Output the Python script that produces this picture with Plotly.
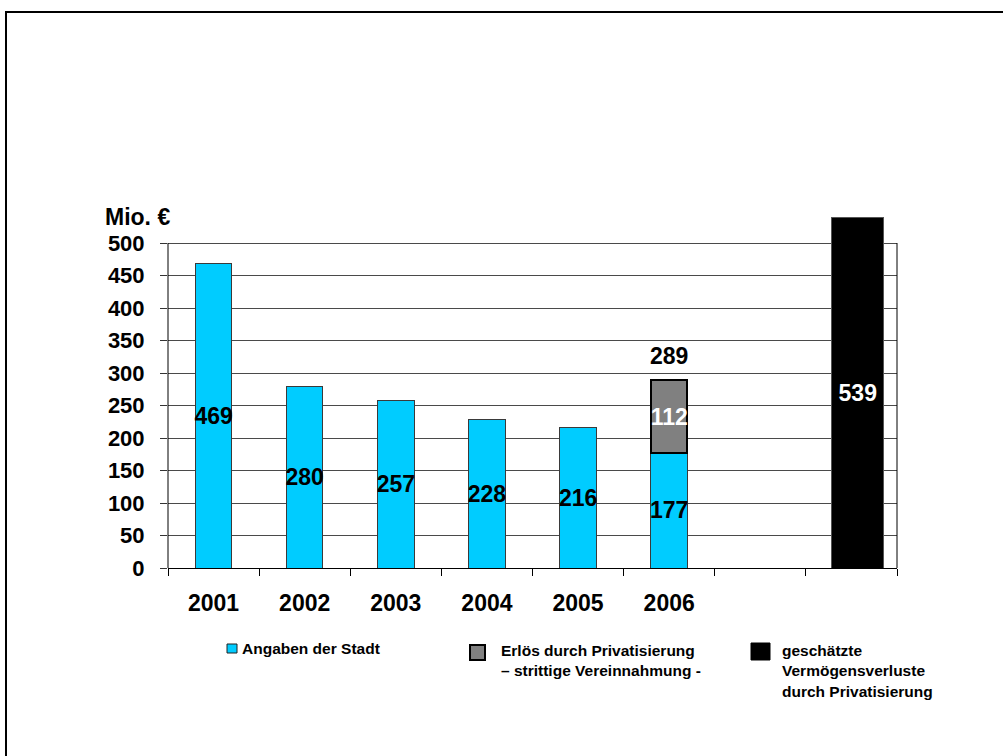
import plotly.graph_objects as go

# ---------------- data ----------------
categories = ["2001", "2002", "2003", "2004", "2005", "2006", "leer", "verlust"]
tick_labels = ["2001", "2002", "2003", "2004", "2005", "2006", "", ""]

stadt_x = ["2001", "2002", "2003", "2004", "2005", "2006"]
stadt_values = [469, 280, 257, 228, 216, 177]

erloes_x = ["2006"]
erloes_values = [112]

verlust_x = ["verlust"]
verlust_values = [539]

y_tickvals = [0, 50, 100, 150, 200, 250, 300, 350, 400, 450, 500]
y_title = "Mio. €"

series_names = [
    "Angaben der Stadt",
    "Erlös durch Privatisierung<br>– strittige Vereinnahmung -",
    "geschätzte<br>Vermögensverluste<br>durch Privatisierung",
]
series_colors = ["#00CCFF", "#808080", "#000000"]

# ---------------- layout geometry (pixels) ----------------
FW, FH = 1003, 756
L, R, T, B = 168, 897, 214, 568
W, H = R - L, B - T


def px(x):
    return (x - L) / W


def py(y):
    return (B - y) / H


FONT = "Liberation Sans, Arial, sans-serif"
LABEL_SIZE = 23

fig = go.Figure()

fig.add_trace(go.Bar(
    x=stadt_x, y=stadt_values, name=series_names[0], width=0.4,
    marker=dict(color=series_colors[0], line=dict(color="#3a3a3a", width=1)),
    text=[f"<b>{v}</b>" for v in stadt_values],
    textposition="inside", insidetextanchor="middle", constraintext="none",
    textangle=0, textfont=dict(family=FONT, size=LABEL_SIZE, color="black"),
    hoverinfo="skip", showlegend=False,
))
fig.add_trace(go.Bar(
    x=erloes_x, y=erloes_values, name=series_names[1], width=0.4,
    marker=dict(color=series_colors[1], line=dict(color="black", width=2)),
    text=[f"<b>{v}</b>" for v in erloes_values],
    textposition="inside", insidetextanchor="middle", constraintext="none",
    textangle=0, textfont=dict(family=FONT, size=LABEL_SIZE, color="white"),
    hoverinfo="skip", showlegend=False,
))
fig.add_trace(go.Bar(
    x=verlust_x, y=verlust_values, name=series_names[2], width=0.573, offset=-0.217,
    marker=dict(color=series_colors[2], line=dict(color="#555555", width=1)),
    text=[f"<b>{v}</b>" for v in verlust_values],
    textposition="inside", insidetextanchor="middle", constraintext="none",
    textangle=0, textfont=dict(family=FONT, size=LABEL_SIZE, color="white"),
    hoverinfo="skip", showlegend=False,
))

# total label above the stacked 2006 bar
total_2006 = stadt_values[stadt_x.index("2006")] + erloes_values[0]
annotations = [
    dict(x=categories.index("2006"), y=total_2006, xref="x", yref="y",
         text=f"<b>{total_2006}</b>", showarrow=False, yanchor="bottom", yshift=9,
         font=dict(family=FONT, size=LABEL_SIZE, color="black")),
    dict(x=px(103), y=py(217), xref="paper", yref="paper", text=f"<b>{y_title}</b>",
         showarrow=False, xanchor="left", yanchor="middle",
         font=dict(family=FONT, size=23, color="black")),
]

shapes = [
    # outer frame
    dict(type="rect", xref="paper", yref="paper", x0=px(6), x1=px(1012),
         y0=py(12), y1=py(770), line=dict(color="black", width=2), layer="below"),
    # left and right plot-area borders up to 500
    dict(type="line", xref="paper", yref="y", x0=0, x1=0, y0=0, y1=500,
         line=dict(color="black", width=1)),
    dict(type="line", xref="paper", yref="y", x0=1, x1=1, y0=0, y1=500,
         line=dict(color="black", width=1)),
]

# manual legend
legend_boxes = [
    (227, 644, 237, 653, "#222222", 1),
    (470, 645, 485, 660, "black", 2),
    (751, 643, 770, 660, "black", 1),
]
legend_text_x = [240, 499, 780]
legend_first_line_y = [648, 650, 650]
line_step = 20.8
for i, name in enumerate(series_names):
    x0, y0, x1, y1, lc, lw = legend_boxes[i]
    shapes.append(dict(type="rect", xref="paper", yref="paper",
                       x0=px(x0), x1=px(x1), y0=py(y0), y1=py(y1),
                       fillcolor=series_colors[i], line=dict(color=lc, width=lw)))
    for j, line in enumerate(name.split("<br>")):
        annotations.append(dict(
            x=px(legend_text_x[i]), y=py(legend_first_line_y[i] + j * line_step),
            xref="paper", yref="paper", text=f"<b>{line}</b>", showarrow=False,
            xanchor="left", yanchor="middle",
            font=dict(family=FONT, size=15.5, color="black")))

fig.update_layout(
    width=FW, height=FH,
    margin=dict(l=L, r=FW - R, t=T, b=FH - B, pad=0),
    paper_bgcolor="white", plot_bgcolor="white",
    barmode="stack",
    showlegend=False,
    shapes=shapes,
    annotations=annotations,
    xaxis=dict(
        type="category", categoryorder="array", categoryarray=categories,
        tickvals=categories, ticktext=tick_labels, range=[-0.5, 7.5],
        tickson="boundaries", ticks="outside", ticklen=7, tickcolor="black",
        showline=True, linecolor="black", linewidth=1, showgrid=False,
        ticklabelstandoff=14,
        tickfont=dict(family=FONT, size=23, color="black", weight="bold"),
        fixedrange=True,
    ),
    yaxis=dict(
        range=[0, H / 0.65], tickvals=y_tickvals, ticks="outside", ticklen=7,
        tickcolor="#333333", showgrid=True, gridcolor="#4a4a4a", gridwidth=1,
        zeroline=False, showline=False, ticklabelstandoff=11,
        tickfont=dict(family=FONT, size=22, color="black", weight="bold"),
        fixedrange=True,
    ),
)

fig.write_html(
    "out.html",
    config={"displayModeBar": False, "staticPlot": True},
    post_script="document.body.style.margin='0';document.body.style.overflow='hidden';",
)
